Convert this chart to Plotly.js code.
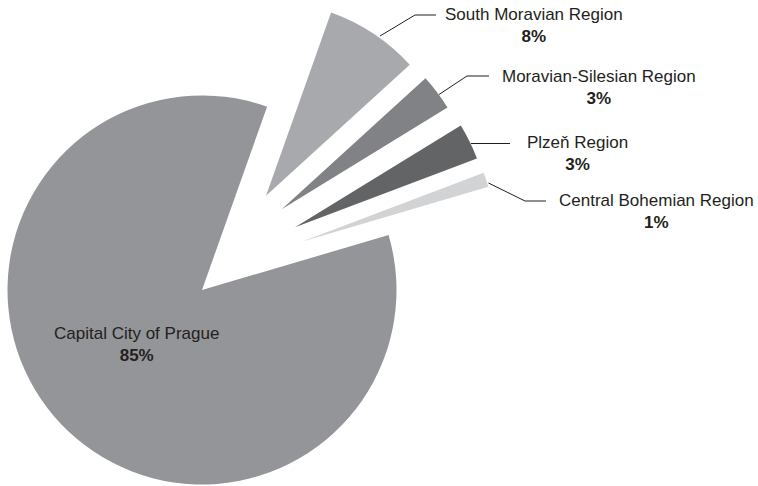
<!DOCTYPE html>
<html><head><meta charset="utf-8">
<script src="https://cdn.plot.ly/plotly-3.0.1.min.js"></script>
<style>html,body{margin:0;padding:0;background:#fff;overflow:hidden}#chart{width:758px;height:486px}</style>
</head><body><div id="chart"></div>
<script>
// ---- data ----
const regions = ["Capital City of Prague", "South Moravian Region", "Moravian-Silesian Region", "Plzeň Region", "Central Bohemian Region"];
const shares = [84.9, 7.8, 3.0, 3.0, 1.2];

// ---- style / layout ----
const colors = ["#939598", "#a7a9ac", "#808285", "#636466", "#d1d3d4"];
const W = 758, H = 486, R = 194.5;
const pieCenter = [202, 290];
const explodeOffset = [[0, 0], [64, -94.3], [79.7, -80.7], [93, -62.7], [99.7, -48.3]];
const labelAnchor = [[136, 344], [534, 26], [599, 87], [577, 153], [656, 211]];
const leaderPaths = [null,
  [[380, 36], [415, 15], [436, 15]],
  [[439, 94.5], [467, 76], [489, 76]],
  [[471, 143.5], [510, 143.5]],
  [[488.5, 183], [525, 201], [546, 201]]];
const textColor = "#231f20";
const fontFamily = "'Liberation Sans', Arial, sans-serif";

const total = shares.reduce((a, b) => a + b, 0);
const px = x => x / W, py = y => 1 - y / H;

const traces = regions.map((name, k) => {
  const cx = pieCenter[0] + explodeOffset[k][0];
  const cy = pieCenter[1] + explodeOffset[k][1];
  return {
    type: "pie",
    labels: regions,
    values: shares,
    sort: false,
    direction: "clockwise",
    rotation: 73.6,
    textinfo: "none",
    hoverinfo: "label+percent",
    showlegend: false,
    marker: {
      colors: regions.map((_, i) => i === k ? colors[i] : "rgba(0,0,0,0)"),
      line: {width: 0}
    },
    domain: {
      x: [px(cx - R), px(cx + R)],
      y: [py(cy + R), py(cy - R)]
    }
  };
});

const annotations = regions.map((name, k) => ({
  xref: "paper", yref: "paper",
  x: px(labelAnchor[k][0]), y: py(labelAnchor[k][1]),
  xanchor: "center", yanchor: "middle",
  showarrow: false, align: "center",
  text: name + "<br><b>" + Math.round(shares[k] / total * 100) + "%</b>",
  font: {family: fontFamily, size: 17, color: textColor}
}));

const shapes = leaderPaths.filter(p => p).map(p => ({
  type: "path", xref: "paper", yref: "paper",
  path: p.map((pt, i) => (i ? "L" : "M") + px(pt[0]) + "," + py(pt[1])).join(" "),
  line: {color: textColor, width: 1}
}));

Plotly.newPlot("chart", traces, {
  width: W, height: H,
  margin: {l: 0, r: 0, t: 0, b: 0},
  paper_bgcolor: "#ffffff",
  annotations: annotations,
  shapes: shapes,
  font: {family: fontFamily, color: textColor}
}, {staticPlot: true});
</script>
</body></html>
